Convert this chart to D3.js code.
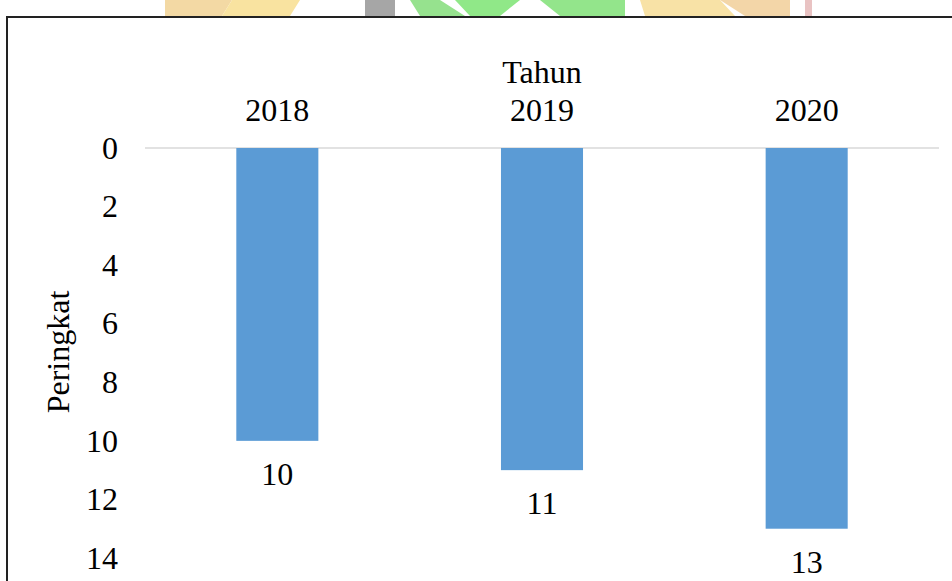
<!DOCTYPE html>
<html lang="en">
<head>
<script src="https://d3js.org/d3.v7.min.js"></script>
<style>
    body { margin: 0; background: #fff; }
    svg { display: block; font-family: "Liberation Serif", "Times New Roman", serif; }
</style>
</head>
<body>
<div id="container"></div>
<script>

    // data
    const years = ["2018", "2019", "2020"];
    const ranks = [10, 11, 13];
    const yTicks = [0, 2, 4, 6, 8, 10, 12, 14];

    const width = 952, height = 581;
    const fontSize = 32;

    const svg = d3.select("#container")
        .append("svg")
        .attr("width", width)
        .attr("height", height);

    // faded watermark peeking above the frame
    const wm = svg.append("g");
    wm.append("polygon").attr("points", "165,0 232,0 222,16 165,16").attr("fill", "#f3d9a4");
    wm.append("polygon").attr("points", "232,0 300,0 290,16 222,16").attr("fill", "#f9e3a0");
    wm.append("rect").attr("x", 365).attr("y", 0).attr("width", 30).attr("height", 16).attr("fill", "#a6a6a6");
    wm.append("polygon").attr("points", "410,0 440,0 465,16 420,16").attr("fill", "#96e28e");
    wm.append("polygon").attr("points", "455,0 520,0 500,16 470,16").attr("fill", "#90e888");
    wm.append("polygon").attr("points", "540,0 625,0 625,16 560,16").attr("fill", "#93e58b");
    wm.append("polygon").attr("points", "640,0 720,0 735,16 645,16").attr("fill", "#f8e2a6");
    wm.append("polygon").attr("points", "720,0 790,0 790,16 745,16").attr("fill", "#f3d6a8");
    wm.append("rect").attr("x", 805).attr("y", 0).attr("width", 7).attr("height", 16).attr("fill", "#e9c3c3");

    // chart frame
    svg.append("rect")
        .attr("x", 7).attr("y", 17)
        .attr("width", 960).attr("height", 600)
        .attr("fill", "#fff")
        .attr("stroke", "#222")
        .attr("stroke-width", 2);

    const margin = {top: 148, left: 145, right: 13};

    const x = d3.scaleBand()
        .domain(years)
        .range([margin.left, width - margin.right]);

    const y = d3.scaleLinear()
        .domain([0, 14])
        .range([margin.top, 558]);

    const barW = x.bandwidth() * 0.31;

    // zero line
    svg.append("line")
        .attr("x1", margin.left).attr("x2", width - margin.right)
        .attr("y1", y(0)).attr("y2", y(0))
        .attr("stroke", "#d9d9d9")
        .attr("stroke-width", 1.5);

    // y axis labels
    const yAxis = svg.append("g")
        .attr("transform", "translate(118,0)")
        .call(d3.axisLeft(y).tickValues(yTicks).tickSize(0).tickPadding(0));
    yAxis.select(".domain").remove();
    yAxis.selectAll("text")
        .attr("font-family", "Liberation Serif, serif")
        .attr("font-size", fontSize)
        .attr("fill", "#000");

    // x axis labels on top
    const xAxis = svg.append("g")
        .attr("transform", "translate(0,121)")
        .call(d3.axisTop(x).tickSize(0).tickPadding(0));
    xAxis.select(".domain").remove();
    xAxis.selectAll("text")
        .attr("font-family", "Liberation Serif, serif")
        .attr("font-size", fontSize)
        .attr("fill", "#000");

    // axis titles
    svg.append("text")
        .attr("x", x("2019") + x.bandwidth() / 2)
        .attr("y", 83)
        .attr("text-anchor", "middle")
        .attr("font-size", fontSize)
        .text("Tahun");

    svg.append("text")
        .attr("transform", "translate(69,352) rotate(-90)")
        .attr("text-anchor", "middle")
        .attr("font-size", fontSize)
        .text("Peringkat");

    // bars
    svg.selectAll("rect.bar")
        .data(years)
        .enter()
        .append("rect")
        .attr("class", "bar")
        .attr("x", function(d) { return x(d) + (x.bandwidth() - barW) / 2; })
        .attr("y", y(0))
        .attr("width", barW)
        .attr("height", function(d, i) { return y(ranks[i]) - y(0); })
        .attr("fill", "#5b9bd5");

    // data labels
    svg.selectAll("text.lbl")
        .data(years)
        .enter()
        .append("text")
        .attr("class", "lbl")
        .attr("x", function(d) { return x(d) + x.bandwidth() / 2; })
        .attr("y", function(d, i) { return y(ranks[i]) + 44; })
        .attr("text-anchor", "middle")
        .attr("font-size", fontSize)
        .text(function(d, i) { return ranks[i]; });

</script>
</body>
</html>
